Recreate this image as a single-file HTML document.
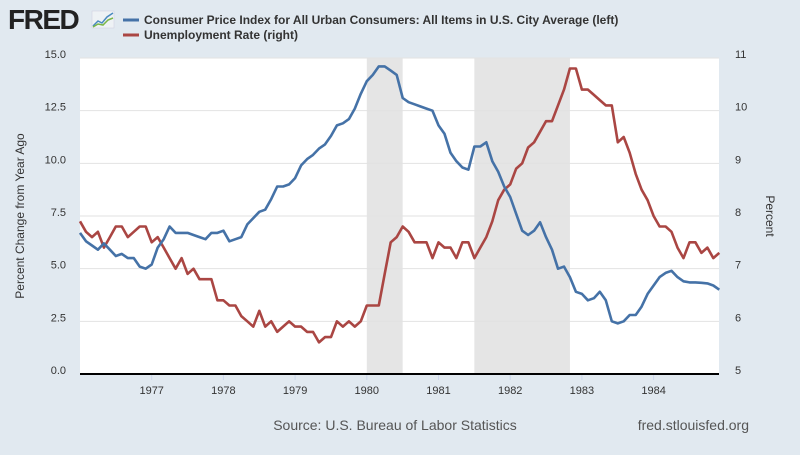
<!DOCTYPE html>
<html><head><meta charset="utf-8"><style>
body{margin:0;width:800px;height:450px;background:#e1e9f0;overflow:hidden;font-family:"Liberation Sans",Arial,sans-serif}
</style></head><body>
<svg width="800" height="450" xmlns="http://www.w3.org/2000/svg" font-family="Liberation Sans, Arial, sans-serif">
<g>
<text x="8" y="29" font-size="28" font-weight="bold" fill="#222" letter-spacing="-1.5">FRED</text>
<rect x="92" y="11" width="22" height="17" fill="#eef2f5" stroke="#ccd" stroke-width="0.5"/>
<polyline points="93,26 98,21 102,23 107,17 113,13" fill="none" stroke="#4a8ac0" stroke-width="1.5"/>
<polyline points="93,27 98,24 103,25 108,20 113,18" fill="none" stroke="#7ab648" stroke-width="1.5"/>
</g>
<g>
<line x1="123" y1="20" x2="139" y2="20" stroke="#4572a7" stroke-width="3"/>
<text x="144" y="24" font-size="12" font-weight="bold" fill="#333">Consumer Price Index for All Urban Consumers: All Items in U.S. City Average (left)</text>
<line x1="123" y1="35" x2="139" y2="35" stroke="#aa4643" stroke-width="3"/>
<text x="144" y="39" font-size="12" font-weight="bold" fill="#333">Unemployment Rate (right)</text>
</g>
<rect x="80" y="58" width="639" height="316" fill="#fff"/>
<g id="rec"></g><g id="grid"></g><g id="axes"></g><g id="series"></g>
<text transform="translate(24,216) rotate(-90)" text-anchor="middle" font-size="12" fill="#333">Percent Change from Year Ago</text>
<text transform="translate(766,216) rotate(90)" text-anchor="middle" font-size="12" fill="#333">Percent</text>
<text x="395" y="430" text-anchor="middle" font-size="14" fill="#555">Source: U.S. Bureau of Labor Statistics</text>
<text x="749" y="430" text-anchor="end" font-size="14" fill="#555">fred.stlouisfed.org</text>
</svg>
<script>
const cpi=[6.7,6.3,6.1,5.9,6.2,5.9,5.6,5.7,5.5,5.5,5.1,5.0,
5.2,6.0,6.4,7.0,6.7,6.7,6.7,6.6,6.5,6.4,6.7,6.7,
6.8,6.3,6.4,6.5,7.1,7.4,7.7,7.8,8.3,8.9,8.9,9.0,
9.3,9.9,10.2,10.4,10.7,10.9,11.3,11.8,11.9,12.1,12.6,13.3,
13.9,14.2,14.6,14.6,14.4,14.2,13.1,12.9,12.8,12.7,12.6,12.5,
11.8,11.4,10.5,10.1,9.8,9.7,10.8,10.8,11.0,10.1,9.6,8.9,
8.4,7.6,6.8,6.6,6.8,7.2,6.5,5.9,5.0,5.1,4.6,3.9,
3.8,3.5,3.6,3.9,3.5,2.5,2.4,2.5,2.8,2.8,3.2,3.8,
4.2,4.6,4.8,4.9,4.6,4.4,4.35,4.35,4.33,4.3,4.2,4.0];
const unrate=[7.9,7.7,7.6,7.7,7.4,7.6,7.8,7.8,7.6,7.7,7.8,7.8,
7.5,7.6,7.4,7.2,7.0,7.2,6.9,7.0,6.8,6.8,6.8,6.4,
6.4,6.3,6.3,6.1,6.0,5.9,6.2,5.9,6.0,5.8,5.9,6.0,
5.9,5.9,5.8,5.8,5.6,5.7,5.7,6.0,5.9,6.0,5.9,6.0,
6.3,6.3,6.3,6.9,7.5,7.6,7.8,7.7,7.5,7.5,7.5,7.2,
7.5,7.4,7.4,7.2,7.5,7.5,7.2,7.4,7.6,7.9,8.3,8.5,
8.6,8.9,9.0,9.3,9.4,9.6,9.8,9.8,10.1,10.4,10.8,10.8,
10.4,10.4,10.3,10.2,10.1,10.1,9.4,9.5,9.2,8.8,8.5,8.3,
8.0,7.8,7.8,7.7,7.4,7.2,7.5,7.5,7.3,7.4,7.2,7.3];
const leftTicks=[0,2.5,5,7.5,10,12.5,15];
const leftLabels=["0.0","2.5","5.0","7.5","10.0","12.5","15.0"];
const rightTicks=[5,6,7,8,9,10,11];
const yearTicks=[1977,1978,1979,1980,1981,1982,1983,1984];
const recessions=[[1980.0,1980.5],[1981.5,1982.833]];
const NS="http://www.w3.org/2000/svg";
const X0=80,PXY=71.7,Y0=374,YT=58;
const xs=t=>X0+(t-1976)*PXY;
const yl=v=>Y0-v/15*(Y0-YT);
const yr=v=>Y0-(v-5)/6*(Y0-YT);
function mk(tag,at,parent){const e=document.createElementNS(NS,tag);for(const k in at)e.setAttribute(k,at[k]);document.getElementById(parent).appendChild(e);return e;}
recessions.forEach(r=>{const e=mk('rect',{x:xs(r[0]),y:YT,width:xs(r[1])-xs(r[0]),height:Y0-YT,fill:'#e5e5e5'},'rec');

});
leftTicks.forEach((v,i)=>{
if(v>0){const g=mk('line',{x1:X0,x2:719,y1:yl(v),y2:yl(v),stroke:'#e2e2e2','stroke-width':1},'grid');

}
const t=mk('text',{x:66,y:yl(v),'text-anchor':'end','font-size':11,fill:'#333'},'axes');t.textContent=leftLabels[i];

});
rightTicks.forEach(v=>{const t=mk('text',{x:735,y:yr(v),'text-anchor':'start','font-size':11,fill:'#333'},'axes');t.textContent=v;

});
yearTicks.forEach(y=>{const l=mk('line',{x1:xs(y),x2:xs(y),y1:Y0,y2:Y0+6,stroke:'#ccd6eb'},'axes');


const t=mk('text',{x:xs(y),y:Y0+20,'text-anchor':'middle','font-size':11,fill:'#333'},'axes');t.textContent=y;

});
const ax=mk('line',{x1:X0,x2:719,y1:Y0,y2:Y0,stroke:'#000','stroke-width':2},'axes');


function path(arr,yf,color,name){const p=mk('polyline',{points:arr.map((v,i)=>xs(1976+i/12).toFixed(1)+','+yf(v).toFixed(1)).join(' '),fill:'none',stroke:color,'stroke-width':2.6,'stroke-linejoin':'round'},'series');

}
path(unrate,yr,'#aa4643','unemployment-line');
path(cpi,yl,'#4572a7','cpi-line');
</script>
</body></html>
